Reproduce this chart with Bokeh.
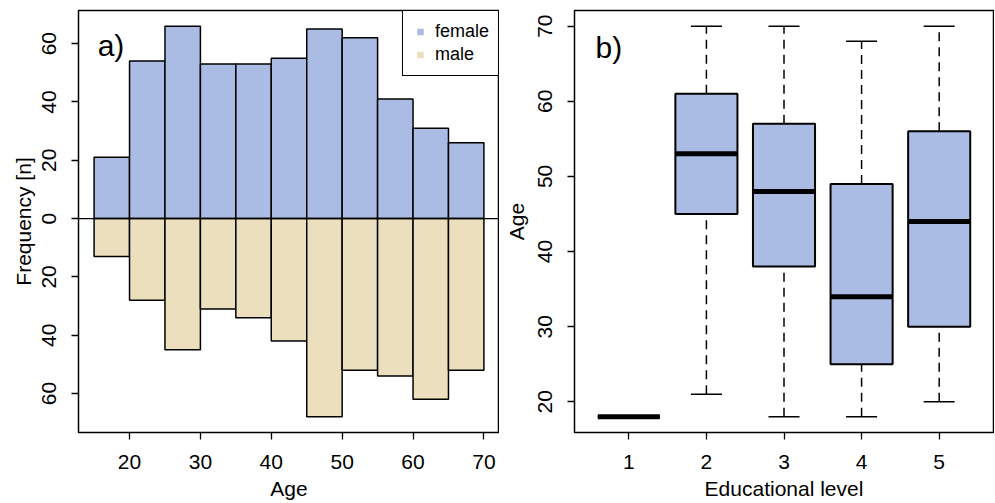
from bokeh.plotting import figure
from bokeh.models import (Range1d, FixedTicker, Span, Label, Legend, LegendItem,
                          ColumnDataSource)
from bokeh.layouts import row
from bokeh.embed import file_html
from bokeh.resources import INLINE

# ---------------- data ----------------
age_left = [15, 20, 25, 30, 35, 40, 45, 50, 55, 60, 65]
age_right = [20, 25, 30, 35, 40, 45, 50, 55, 60, 65, 70]
female = [21, 54, 66, 53, 53, 55, 65, 62, 41, 31, 26]
male = [13, 28, 45, 31, 34, 42, 68, 52, 54, 62, 52]

freq_ticks = [-60, -40, -20, 0, 20, 40, 60]
freq_labels = ["60", "40", "20", "0", "20", "40", "60"]
age_ticks = [20, 30, 40, 50, 60, 70]

edu = [1, 2, 3, 4, 5]
w_lo = [18, 21, 18, 18, 20]
q1 = [18, 45, 38, 25, 30]
med = [18, 53, 48, 34, 44]
q3 = [18, 61, 57, 49, 56]
w_hi = [18, 70, 70, 68, 70]
box_age_ticks = [20, 30, 40, 50, 60, 70]

FEMALE_COL = "#AABBE4"
MALE_COL = "#EBDFBD"
FONT = "Liberation Sans"


def style(p):
    p.grid.visible = False
    p.outline_line_color = "black"
    p.outline_line_width = 1.5
    p.outline_line_alpha = 1
    p.background_fill_color = "white"
    p.border_fill_color = "white"
    for ax in p.axis:
        ax.axis_line_color = None
        ax.major_tick_line_color = "black"
        ax.major_tick_line_width = 1.3
        ax.major_tick_out = 7
        ax.major_tick_in = 0
        ax.minor_tick_line_color = None
        ax.major_label_text_font = FONT
        ax.major_label_text_font_size = "21px"
        ax.major_label_text_color = "black"
        ax.axis_label_text_font = FONT
        ax.axis_label_text_font_size = "21px"
        ax.axis_label_text_font_style = "normal"
        ax.axis_label_text_color = "black"


# ---------------- panel a ----------------
lo_y = -max(male)
hi_y = max(female)
pad_y = 0.04 * (hi_y - lo_y)
pad_x = 0.04 * (age_right[-1] - age_left[0])
p1 = figure(frame_width=421, frame_height=422,
            min_border_left=78, min_border_right=0, min_border_top=10, min_border_bottom=70,
            x_range=Range1d(age_left[0] - pad_x, age_right[-1] + pad_x),
            y_range=Range1d(lo_y - pad_y, hi_y + pad_y),
            output_backend="svg", toolbar_location=None)

src = ColumnDataSource(dict(l=age_left, r=age_right, f=female,
                            m=[-v for v in male], z=[0] * len(male)))
p1.quad(left="l", right="r", bottom="z", top="f", source=src,
        fill_color=FEMALE_COL, line_color="black", line_width=1.5)
p1.quad(left="l", right="r", bottom="m", top="z", source=src,
        fill_color=MALE_COL, line_color="black", line_width=1.5)
p1.add_layout(Span(location=0, dimension="width", line_color="black", line_width=1.2))

style(p1)
p1.xaxis.ticker = FixedTicker(ticks=age_ticks)
p1.yaxis.ticker = FixedTicker(ticks=freq_ticks)
p1.yaxis.major_label_overrides = {t: l for t, l in zip(freq_ticks, freq_labels)}
p1.yaxis.major_label_orientation = "vertical"
p1.xaxis.axis_label = "Age"
p1.yaxis.axis_label = "Frequency [n]"
p1.xaxis.major_label_standoff = 15
p1.xaxis.axis_label_standoff = 5
p1.yaxis.major_label_standoff = 15
p1.yaxis.axis_label_standoff = 5

nan = float("nan")
rf = p1.scatter(x=[nan], y=[nan], marker="square", size=9, fill_color=FEMALE_COL, line_color=None)
rm = p1.scatter(x=[nan], y=[nan], marker="square", size=9, fill_color=MALE_COL, line_color=None)
leg = Legend(items=[LegendItem(label="female", renderers=[rf]),
                    LegendItem(label="male", renderers=[rm])],
             location="top_right", margin=0, padding=9, spacing=0,
             label_height=23, glyph_height=23, glyph_width=16, label_standoff=7,
             label_text_font=FONT, label_text_font_size="18px", label_text_color="black",
             border_line_color="black", border_line_width=1.5, border_line_alpha=1,
             background_fill_color="white", background_fill_alpha=1)
p1.add_layout(leg)
p1.add_layout(Label(x=15.5, y=59.3, text="a)", text_font=FONT, text_font_size="30px",
                    text_color="black", text_baseline="middle", text_align="left"))

# ---------------- panel b ----------------
lo_b = min(w_lo)
hi_b = max(w_hi)
pb = 0.04 * (hi_b - lo_b)
p2 = figure(frame_width=419, frame_height=422,
            min_border_left=75, min_border_right=1, min_border_top=10, min_border_bottom=70,
            x_range=Range1d(0.5 - 0.2, 5.5 + 0.2),
            y_range=Range1d(lo_b - pb, hi_b + pb),
            output_backend="svg", toolbar_location=None)

bw = 0.8
cw = 0.4
bsrc = ColumnDataSource(dict(
    x=edu, lo=w_lo, q1=q1, med=med, q3=q3, hi=w_hi,
    bl=[e - bw / 2 for e in edu], br=[e + bw / 2 for e in edu],
    cl=[e - cw / 2 for e in edu], cr=[e + cw / 2 for e in edu]))
p2.segment(x0="x", y0="q3", x1="x", y1="hi", source=bsrc, line_color="black",
           line_width=1.5, line_dash="9 6")
p2.segment(x0="x", y0="lo", x1="x", y1="q1", source=bsrc, line_color="black",
           line_width=1.5, line_dash="9 6")
p2.segment(x0="cl", y0="hi", x1="cr", y1="hi", source=bsrc, line_color="black", line_width=1.5)
p2.segment(x0="cl", y0="lo", x1="cr", y1="lo", source=bsrc, line_color="black", line_width=1.5)
p2.quad(left="bl", right="br", bottom="q1", top="q3", source=bsrc,
        fill_color=FEMALE_COL, line_color="black", line_width=2)
p2.segment(x0="bl", y0="med", x1="br", y1="med", source=bsrc, line_color="black",
           line_width=5, line_cap="butt")

style(p2)
p2.xaxis.ticker = FixedTicker(ticks=edu)
p2.yaxis.ticker = FixedTicker(ticks=box_age_ticks)
p2.yaxis.major_label_orientation = "vertical"
p2.xaxis.axis_label = "Educational level"
p2.yaxis.axis_label = "Age"
p2.xaxis.major_label_standoff = 15
p2.xaxis.axis_label_standoff = 5
p2.yaxis.major_label_standoff = 15
p2.yaxis.axis_label_standoff = 8
p2.add_layout(Label(x=0.57, y=67.2, text="b)", text_font=FONT, text_font_size="30px",
                    text_color="black", text_baseline="middle", text_align="left"))

layout = row(p1, p2)
open("out.html", "w").write(file_html(layout, INLINE))
